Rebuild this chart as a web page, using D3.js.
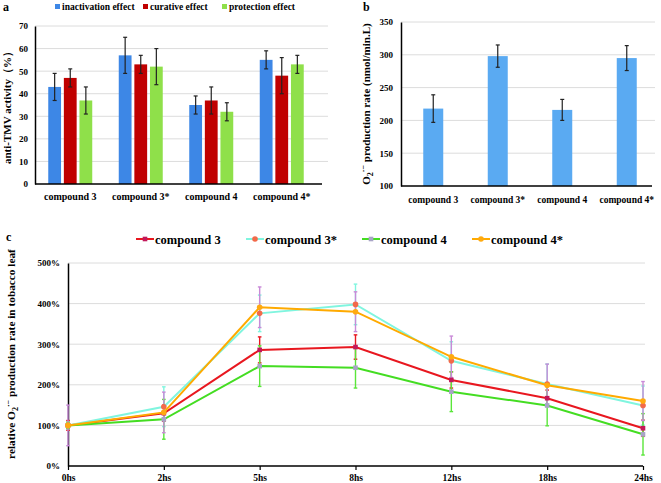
<!DOCTYPE html>
<html><head><meta charset="utf-8">
<script src="https://cdn.jsdelivr.net/npm/d3@7"></script>
<style>
body{margin:0;background:#fff;}
svg text{font-family:"Liberation Serif","Times New Roman",serif !important;font-weight:bold;fill:#000;}
</style></head><body>
<svg id="c" width="661" height="483"></svg>
<script>
// ---------- DATA ----------
const compounds = ["compound 3", "compound 3*", "compound 4", "compound 4*"];
const effectNames = ["inactivation effect", "curative effect", "protection effect"];
const inactivation = [43, 57, 35, 55];
const inactivationErr = [6, 8, 4, 4];
const curative = [47, 53, 37, 48];
const curativeErr = [4, 4, 6, 8];
const protection = [37, 52, 32, 53];
const protectionErr = [6, 8, 4, 4];
const aTicks = [0, 10, 20, 30, 40, 50, 60, 70];

const o2Rate = [218, 298, 216, 295];
const o2RateErr = [21, 17, 16, 19];
const bTicks = [100, 150, 200, 250, 300, 350];

const times = ["0hs", "2hs", "5hs", "8hs", "12hs", "18hs", "24hs"];
const rel3 = [100, 130, 286, 293, 212, 167, 93];
const rel3Err = [12, 20, 32, 30, 20, 20, 20];
const rel3s = [100, 146, 376, 398, 259, 202, 149];
const rel3sErr = [8, 49, 45, 50, 47, 49, 48];
const rel4 = [100, 115, 246, 242, 183, 149, 78];
const rel4Err = [8, 49, 50, 50, 49, 50, 51];
const rel4s = [100, 132, 391, 380, 269, 199, 160];
const rel4sErr = [50, 50, 50, 49, 51, 52, 48];
const cTicks = [0, 100, 200, 300, 400, 500];

// ---------- SETUP ----------
const FONT = '"Liberation Serif","Times New Roman",serif';
const svg = d3.select("#c").attr("font-family", FONT).attr("font-weight", "bold");
const gridColor = "#dcdcdc";

function errBars(g, pts, color, cap, width) {
  pts.forEach(p => {
    g.append("line").attr("x1", p.x).attr("x2", p.x).attr("y1", p.y1).attr("y2", p.y2)
      .attr("stroke", color).attr("stroke-width", width);
    [p.y1, p.y2].forEach(yy => g.append("line").attr("x1", p.x - cap).attr("x2", p.x + cap)
      .attr("y1", yy).attr("y2", yy).attr("stroke", color).attr("stroke-width", width));
  });
}
function styleAxis(ax, size) {
  ax.attr("font-family", FONT).attr("font-weight", "bold");
  ax.selectAll("text").style("font-size", size).style("font-family", FONT).attr("fill", "#000");
}

// ---------- PANEL A ----------
(function () {
  const g = svg.append("g");
  const x0 = d3.scaleBand().domain(compounds).range([35, 317]).paddingInner(0.376).paddingOuter(0.188);
  const x1 = d3.scaleBand().domain(effectNames).range([0, x0.bandwidth()]).paddingInner(0.18);
  const y = d3.scaleLinear().domain([0, 70]).range([184, 26]);
  const colors = ["#3d87e6", "#c00000", "#8fe04a"];
  const vals = [inactivation, curative, protection];
  const errs = [inactivationErr, curativeErr, protectionErr];

  g.selectAll(".gr").data(aTicks.slice(1)).join("line")
    .attr("x1", 35).attr("x2", 328).attr("y1", d => y(d)).attr("y2", d => y(d))
    .attr("stroke", gridColor).attr("stroke-width", 1);

  effectNames.forEach((e, si) => {
    g.selectAll(".b" + si).data(compounds).join("rect")
      .attr("x", c => x0(c) + x1(e)).attr("width", x1.bandwidth())
      .attr("y", (c, i) => y(vals[si][i])).attr("height", (c, i) => y(0) - y(vals[si][i]))
      .attr("fill", colors[si]);
  });
  effectNames.forEach((e, si) => {
    errBars(g, compounds.map((c, i) => ({
      x: x0(c) + x1(e) + x1.bandwidth() / 2,
      y1: y(vals[si][i] + errs[si][i]), y2: y(vals[si][i] - errs[si][i])
    })), "#222", 2, 1.2);
  });

  const ya = g.append("g").attr("transform", "translate(35,0)")
    .call(d3.axisLeft(y).tickValues(aTicks).tickSize(0).tickPadding(7));
  ya.select(".domain").attr("stroke", "#000").attr("stroke-width", 1.5);
  styleAxis(ya, "9px");
  const xa = g.append("g").attr("transform", "translate(0,184)")
    .call(d3.axisBottom(x0).tickSize(0).tickPadding(9));
  xa.select(".domain").attr("d", "M35,0H322").attr("stroke", "#000").attr("stroke-width", 1.5);
  styleAxis(xa, "10px");

  g.append("text").attr("transform", "translate(11,105) rotate(-90)").attr("text-anchor", "middle")
    .style("font-size", "11px").text("anti-TMV activity（%）");
  g.append("text").attr("x", 3).attr("y", 11).style("font-size", "12px").text("a");

  const lx = [55, 143, 222];
  effectNames.forEach((e, i) => {
    g.append("rect").attr("x", lx[i]).attr("y", 4).attr("width", 5).attr("height", 5).attr("fill", colors[i]);
    g.append("text").attr("x", lx[i] + 7).attr("y", 10).style("font-size", "9.5px").text(e);
  });
})();

// ---------- PANEL B ----------
(function () {
  const g = svg.append("g");
  const x = d3.scaleBand().domain(compounds).range([401, 659]).paddingInner(0.69).paddingOuter(0.345);
  const y = d3.scaleLinear().domain([100, 350]).range([186, 22]);

  g.selectAll(".gr").data(bTicks.slice(1)).join("line")
    .attr("x1", 401).attr("x2", 655).attr("y1", d => y(d)).attr("y2", d => y(d))
    .attr("stroke", gridColor).attr("stroke-width", 1);

  g.selectAll(".bar").data(compounds).join("rect")
    .attr("x", c => x(c)).attr("width", x.bandwidth())
    .attr("y", (c, i) => y(o2Rate[i])).attr("height", (c, i) => y(100) - y(o2Rate[i]))
    .attr("fill", "#5aaaf2");
  errBars(g, compounds.map((c, i) => ({
    x: x(c) + x.bandwidth() / 2, y1: y(o2Rate[i] + o2RateErr[i]), y2: y(o2Rate[i] - o2RateErr[i])
  })), "#222", 2, 1.2);

  const ya = g.append("g").attr("transform", "translate(401,0)")
    .call(d3.axisLeft(y).tickValues(bTicks).tickSize(0).tickPadding(8));
  ya.select(".domain").attr("stroke", "#000").attr("stroke-width", 1.5);
  styleAxis(ya, "9px");
  const xa = g.append("g").attr("transform", "translate(0,186)")
    .call(d3.axisBottom(x).tickSize(0).tickPadding(10));
  xa.select(".domain").attr("d", "M401,0H652").attr("stroke", "#000").attr("stroke-width", 1.5);
  styleAxis(xa, "9.5px");

  const t = g.append("text").attr("transform", "translate(370,104) rotate(-90)").attr("text-anchor", "middle")
    .style("font-size", "11px");
  t.append("tspan").text("O");
  t.append("tspan").attr("dy", 3).style("font-size", "8px").text("2");
  t.append("tspan").attr("dy", -7).style("font-size", "8px").text("·−");
  t.append("tspan").attr("dy", 4).text(" production rate (nmol/min.L)");
  g.append("text").attr("x", 363).attr("y", 11).style("font-size", "12px").text("b");
})();

// ---------- PANEL C ----------
(function () {
  const g = svg.append("g");
  const x = d3.scalePoint().domain(times).range([68, 643]);
  const y = d3.scaleLinear().domain([0, 500]).range([466, 263]);
  const series = [
    { name: "compound 3", v: rel3, e: rel3Err, line: "#e8171f", err: "#e8171f", mk: "#c2185b", shape: "square" },
    { name: "compound 3*", v: rel3s, e: rel3sErr, line: "#80f5df", err: "#80f5df", mk: "#f26a4a", shape: "circle" },
    { name: "compound 4", v: rel4, e: rel4Err, line: "#44dd22", err: "#5ae63a", mk: "#a8a4c6", shape: "square" },
    { name: "compound 4*", v: rel4s, e: rel4sErr, line: "#ffaa00", err: "#c98ad8", mk: "#ffaa10", shape: "circle" }
  ];

  g.selectAll(".gr").data(cTicks.slice(1)).join("line")
    .attr("x1", 68).attr("x2", 645).attr("y1", d => y(d)).attr("y2", d => y(d))
    .attr("stroke", gridColor).attr("stroke-width", 1);

  const ya = g.append("g").attr("transform", "translate(68,0)")
    .call(d3.axisLeft(y).tickValues(cTicks).tickFormat(d => d + "%").tickSize(0).tickPadding(8));
  ya.select(".domain").attr("stroke", "#000").attr("stroke-width", 1.5);
  styleAxis(ya, "9px");
  const xa = g.append("g").attr("transform", "translate(0,466)")
    .call(d3.axisBottom(x).tickSize(4).tickPadding(4));
  xa.select(".domain").attr("d", "M68,0H643").attr("stroke", "#000").attr("stroke-width", 1.5);
  xa.selectAll(".tick line").attr("stroke", "#000").attr("stroke-width", 1.2);
  styleAxis(xa, "9.5px");

  series.forEach(s => {
    errBars(g, times.map((t, i) => ({ x: x(t), y1: y(s.v[i] + s.e[i]), y2: y(s.v[i] - s.e[i]) })), s.err, 1.8, 1.4);
  });
  const line = d3.line().x((d, i) => x(times[i])).y(d => y(d));
  function marker(sel, s, cx, cy) {
    if (s.shape === "square") sel.append("rect").attr("x", cx - 2.3).attr("y", cy - 2.3).attr("width", 4.6).attr("height", 4.6).attr("fill", s.mk);
    else sel.append("circle").attr("cx", cx).attr("cy", cy).attr("r", 2.8).attr("fill", s.mk);
  }
  series.forEach(s => {
    g.append("path").datum(s.v).attr("d", line).attr("fill", "none").attr("stroke", s.line).attr("stroke-width", 2);
    s.v.forEach((d, i) => marker(g, s, x(times[i]), y(d)));
  });

  const lx = [136, 246, 362, 472];
  series.forEach((s, i) => {
    g.append("line").attr("x1", lx[i]).attr("x2", lx[i] + 18).attr("y1", 239).attr("y2", 239)
      .attr("stroke", s.line).attr("stroke-width", 2);
    marker(g, s, lx[i] + 9, 239);
    g.append("text").attr("x", lx[i] + 19).attr("y", 243.5).style("font-size", "12.5px").text(s.name);
  });

  const t = g.append("text").attr("transform", "translate(15,354) rotate(-90)").attr("text-anchor", "middle")
    .style("font-size", "11.3px");
  t.append("tspan").text("relative O");
  t.append("tspan").attr("dy", 3).style("font-size", "8px").text("2");
  t.append("tspan").attr("dy", -7).style("font-size", "8px").text("·−");
  t.append("tspan").attr("dy", 4).text(" production rate in tobacco leaf");
  g.append("text").attr("x", 6).attr("y", 241).style("font-size", "12px").text("c");
})();
</script></body></html>
